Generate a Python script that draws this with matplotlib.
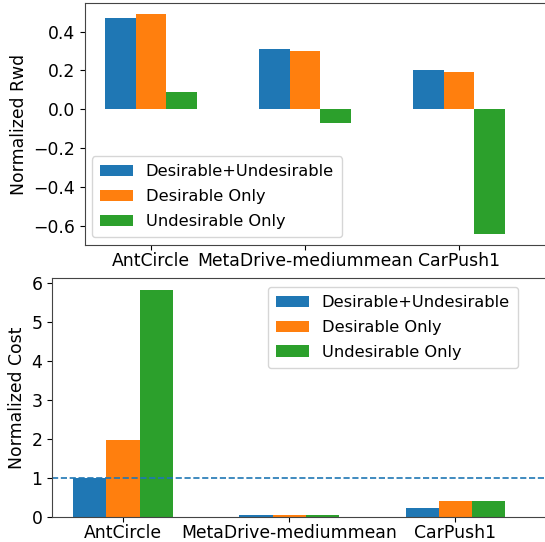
import matplotlib
matplotlib.use("Agg")
import matplotlib.pyplot as plt
import numpy as np

categories = ["AntCircle", "MetaDrive-mediummean", "CarPush1"]
series_names = ["Desirable+Undesirable", "Desirable Only", "Undesirable Only"]
rwd_both = [0.47, 0.31, 0.20]
rwd_des = [0.49, 0.30, 0.19]
rwd_und = [0.09, -0.07, -0.64]
cost_both = [1.00, 0.05, 0.22]
cost_des = [1.97, 0.05, 0.41]
cost_und = [5.83, 0.05, 0.41]
rwd_ticks = [-0.6, -0.4, -0.2, 0.0, 0.2, 0.4]
cost_ticks = [0, 1, 2, 3, 4, 5, 6]

plt.rcParams['font.family'] = ['DejaVu Sans']
plt.rcParams['font.size'] = 12.4

fig = plt.figure(figsize=(5.45, 5.42), dpi=100)
ax1 = fig.add_axes([0.156, 0.548, 0.853, 0.4465])
ax2 = fig.add_axes([0.0954, 0.0461, 0.914, 0.4404])

x = np.arange(len(categories))
w = 0.2
colors = ["#1f77b4", "#ff7f0e", "#2ca02c"]

for ax, data in ((ax1, (rwd_both, rwd_des, rwd_und)), (ax2, (cost_both, cost_des, cost_und))):
    for i, (vals, name) in enumerate(zip(data, series_names)):
        ax.bar(x + (i - 1) * w, vals, w, color=colors[i], label=name)
    ax.set_xticks(x)
    ax.set_xticklabels(categories)
    ax.tick_params(axis="x", pad=1.5)
    for s in ax.spines.values():
        s.set_color("#444444")

ax1.set_xlim(-0.4286, 2.59)
ax1.set_yticks(rwd_ticks)
ax1.set_yticklabels(["\u22120.6", "\u22120.4", "\u22120.2", "0.0", "0.2", "0.4"])
ax1.set_ylabel("Normalized Rwd")
ax1.legend(loc="lower left", fontsize=11.7, borderaxespad=0, labelspacing=0.6, borderpad=0.5,
           bbox_to_anchor=(92 / 545, 1 - 237 / 542), bbox_transform=fig.transFigure)

ax2.axhline(1.0, color="#1f77b4", linestyle="--", linewidth=1.2)
ax2.set_xlim(-0.428, 2.57)
ax2.set_yticks(cost_ticks)
ax2.set_ylabel("Normalized Cost")
ax2.legend(loc="upper right", fontsize=11.7, borderaxespad=0, labelspacing=0.6, borderpad=0.5,
           bbox_to_anchor=(518 / 545, 1 - 287 / 542), bbox_transform=fig.transFigure)

fig.savefig("out.png", dpi=100)
